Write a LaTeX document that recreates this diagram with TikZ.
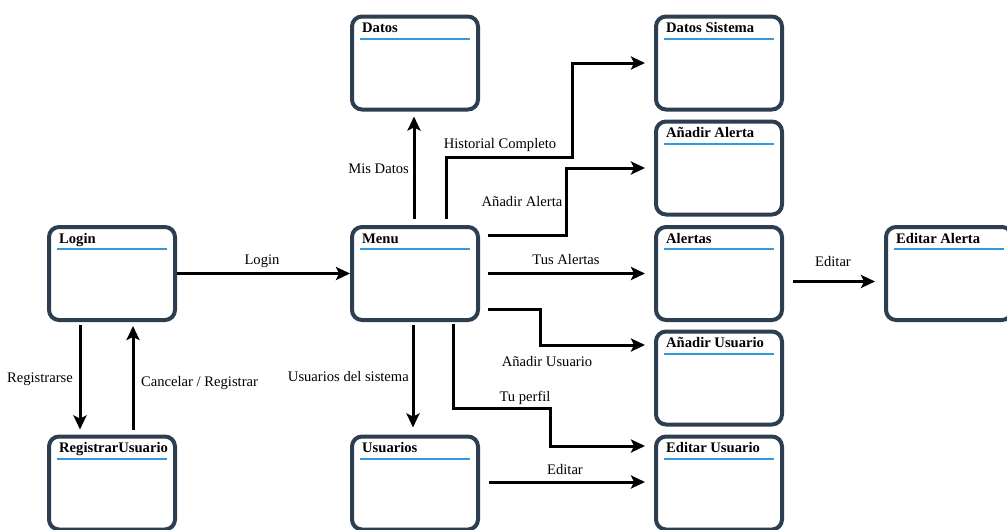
\documentclass[tikz,border=0pt]{standalone}
\usepackage{fontspec}
\setmainfont{Liberation Serif}
\usetikzlibrary{arrows.meta,calc}

\definecolor{boxc}{HTML}{2C3E50}
\definecolor{rulec}{HTML}{3498DB}

\tikzset{
  screen/.style={draw=boxc, line width=4pt, rounded corners=10pt, fill=white,
    minimum width=126pt, minimum height=93pt, inner sep=0pt},
  screentitle/.style={anchor=base west, inner sep=0pt,
    font=\fontsize{14.6}{17}\selectfont\bfseries},
  screenrule/.style={draw=rulec, line width=2pt},
  arr/.style={line width=3pt, line join=miter,
    -{Stealth[length=14pt,width=13pt,inset=3pt]}},
  lbl/.style={inner sep=0pt, font=\fontsize{14.6}{17}\selectfont},
}

% a screen box: name, centre x, centre y, title
\newcommand\screenbox[4]{%
  \node[screen] (#1) at (#2,#3) {};
  \node[screentitle] (#1-title) at ($(#1.north west)+(12,18)$) {#4};
  \draw[screenrule] ($(#1.north west)+(10,24)$) -- ($(#1.north east)+(-10,24)$);
}

\begin{document}
\begin{tikzpicture}[x=1pt,y=-1pt]
  \useasboundingbox (0,0) rectangle (1007,530);
  \clip (0,0) rectangle (1007,530);

  % screens
  \screenbox{login}{112}{273.5}{Login}
  \screenbox{reg}{112}{483}{RegistrarUsuario}
  \screenbox{datos}{415}{63}{Datos}
  \screenbox{menu}{415}{273.5}{Menu}
  \screenbox{usuarios}{415}{483}{Usuarios}
  \screenbox{dsis}{719}{63}{Datos Sistema}
  \screenbox{addal}{719}{168}{Añadir Alerta}
  \screenbox{alertas}{719}{273.5}{Alertas}
  \screenbox{addus}{719}{378}{Añadir Usuario}
  \screenbox{editus}{719}{483}{Editar Usuario}
  \screenbox{edital}{949}{273.5}{Editar Alerta}

  % transitions
  \draw[arr] (login.east) -- (menu.west);
  \node[lbl] at (262,261) {Login};

  \draw[arr] ($(login.south)+(-32,3)$) -- ($(reg.north)+(-32,-5)$);
  \node[lbl, anchor=east] at (73,379) {Registrarse};

  \draw[arr] ($(reg.north)+(21,-5)$) -- ($(login.south)+(21,4)$);
  \node[lbl, anchor=west] at (141,383) {Cancelar / Registrar};

  \draw[arr] ($(menu.north)+(-1,-6)$) -- ($(datos.south)+(-1,5)$);
  \node[lbl, anchor=east] at (409,169) {Mis Datos};

  \draw[arr] ($(menu.north)+(31,-6)$) -- ++(0,-62) -- ++(126,0)
    |- ($(dsis.west)+(-9,0)$);
  \node[lbl] at (500,145) {Historial Completo};

  \draw[arr] ($(menu.east)+(8,-38)$) -- ++(78,0) |- ($(addal.west)+(-9,0)$);
  \node[lbl] at (522,202) {Añadir Alerta};

  \draw[arr] ($(menu.east)+(8,0)$) -- ($(alertas.west)+(-9,0)$);
  \node[lbl] at (566,260) {Tus Alertas};

  \draw[arr] ($(menu.east)+(8,36)$) -- ++(52,0) |- ($(addus.west)+(-9,-33)$);
  \node[lbl] at (547,362) {Añadir Usuario};

  \draw[arr] ($(menu.south)+(38,2)$) -- ++(0,84) -- ++(97,0)
    |- ($(editus.west)+(-9,-37)$);
  \node[lbl] at (525,398) {Tu perfil};

  \draw[arr] ($(menu.south)+(-2,3)$) -- ($(usuarios.north)+(-2,-7)$);
  \node[lbl, anchor=east] at (409,377) {Usuarios del sistema};

  \draw[arr] ($(usuarios.east)+(9,-1)$) -- ($(editus.west)+(-9,-1)$);
  \node[lbl] at (565,470) {Editar};

  \draw[arr] ($(alertas.east)+(9,8)$) -- ($(edital.west)+(-9,8)$);
  \node[lbl] at (833,262) {Editar};
\end{tikzpicture}
\end{document}
